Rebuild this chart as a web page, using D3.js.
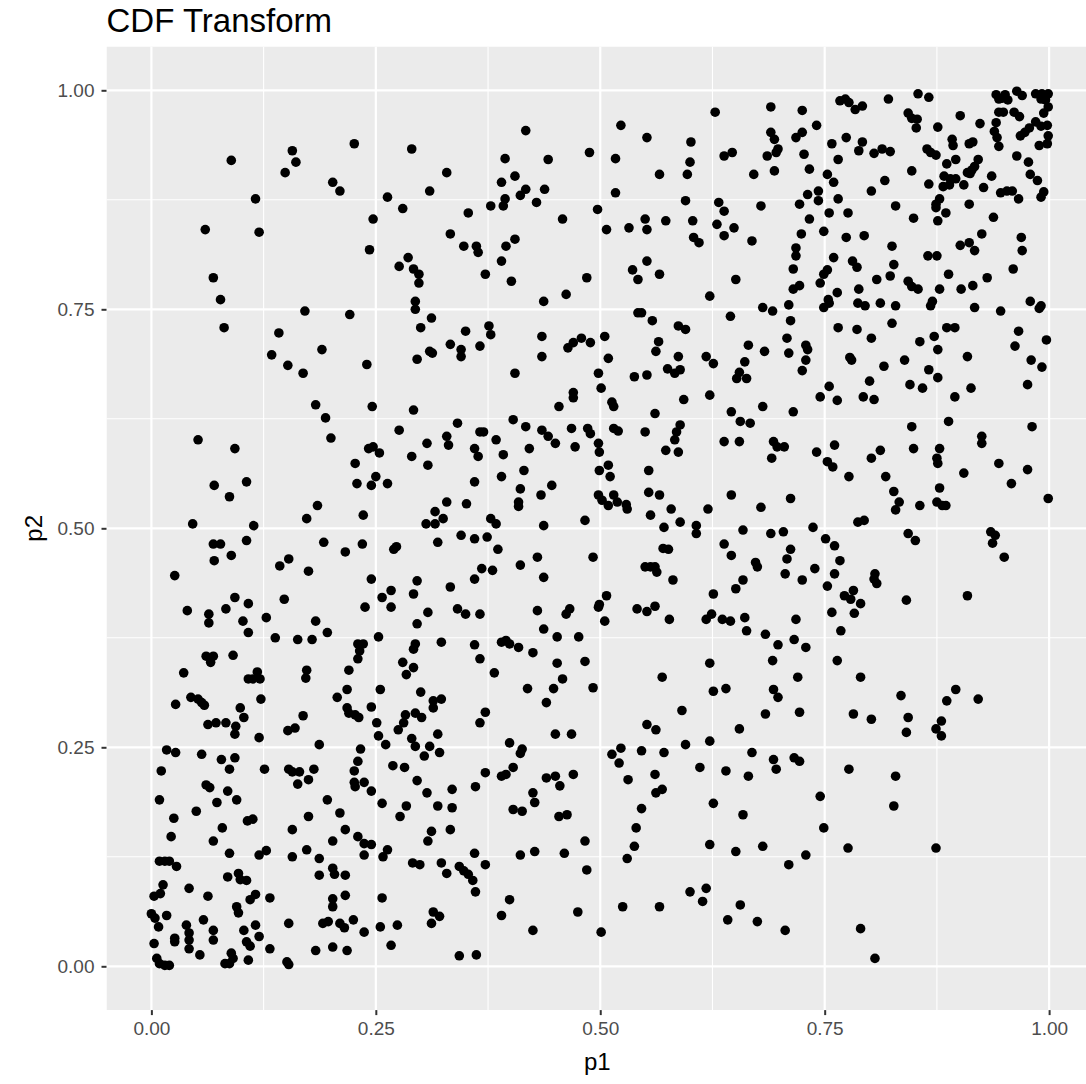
<!DOCTYPE html>
<html>
<head>
<meta charset="utf-8">
<script src="https://cdn.jsdelivr.net/npm/d3@7"></script>
<style>
  html, body { margin: 0; padding: 0; background: #ffffff; overflow: hidden; }
  svg { display: block; }
</style>
</head>
<body>
<svg id="chart" width="1086" height="1084"></svg>
<script>
// Uniform margins (p1, p2) after the CDF transform of each variable.
const samples = [
  [0.089,0.920],[0.157,0.931],[0.161,0.918],[0.149,0.906],[0.202,0.895],[0.210,0.885],[0.116,0.876],[0.060,0.841],[0.120,0.838],[0.069,0.786],[0.077,0.761],[0.081,0.729],[0.171,0.748],[0.221,0.744],[0.142,0.723],[0.190,0.704],[0.134,0.698],[0.152,0.686],
  [0.226,0.939],[0.290,0.933],[0.417,0.954],[0.394,0.922],[0.442,0.921],[0.488,0.929],[0.329,0.906],[0.390,0.895],[0.405,0.902],[0.310,0.885],[0.263,0.878],[0.280,0.865],[0.394,0.876],[0.392,0.868],[0.378,0.868],[0.411,0.880],[0.417,0.887],[0.438,0.887],[0.429,0.872],[0.353,0.860],[0.247,0.853],[0.458,0.853],[0.497,0.864],[0.333,0.836],[0.243,0.818],[0.348,0.822],[0.362,0.822],[0.364,0.815],[0.395,0.822],[0.405,0.830],[0.390,0.805],[0.286,0.809],[0.276,0.799],[0.292,0.796],[0.298,0.790],[0.298,0.780],[0.372,0.790],[0.401,0.782],[0.485,0.786],[0.462,0.767],[0.437,0.759],[0.294,0.759],[0.294,0.750],[0.312,0.740],[0.300,0.729],[0.350,0.725],[0.376,0.731],[0.378,0.721],[0.333,0.710],[0.345,0.704],[0.345,0.696],[0.366,0.708],[0.310,0.702],[0.313,0.700],[0.296,0.693],[0.240,0.687],[0.435,0.719],[0.435,0.696],[0.464,0.706],[0.470,0.712],[0.479,0.717],[0.489,0.712],
  [0.523,0.960],[0.628,0.975],[0.690,0.981],[0.725,0.977],[0.767,0.988],[0.741,0.960],[0.552,0.946],[0.601,0.941],[0.517,0.922],[0.600,0.918],[0.566,0.904],[0.597,0.904],[0.638,0.925],[0.647,0.929],[0.690,0.952],[0.694,0.944],[0.698,0.933],[0.696,0.929],[0.686,0.925],[0.694,0.908],[0.671,0.904],[0.718,0.946],[0.725,0.952],[0.727,0.927],[0.733,0.910],[0.758,0.939],[0.765,0.921],[0.753,0.904],[0.760,0.895],[0.517,0.883],[0.595,0.874],[0.632,0.872],[0.638,0.862],[0.679,0.868],[0.722,0.870],[0.731,0.881],[0.743,0.885],[0.743,0.874],[0.765,0.876],[0.755,0.860],[0.733,0.853],[0.507,0.841],[0.532,0.843],[0.550,0.853],[0.552,0.841],[0.573,0.851],[0.603,0.851],[0.604,0.832],[0.610,0.826],[0.630,0.847],[0.638,0.834],[0.649,0.843],[0.669,0.828],[0.724,0.836],[0.749,0.839],[0.718,0.820],[0.718,0.811],[0.760,0.809],[0.552,0.805],[0.536,0.795],[0.542,0.784],[0.566,0.790],[0.715,0.796],[0.651,0.784],[0.753,0.795],[0.749,0.790],[0.745,0.780],[0.715,0.773],[0.722,0.777],[0.764,0.769],[0.622,0.765],[0.754,0.761],[0.755,0.757],[0.749,0.752],[0.710,0.755],[0.681,0.752],[0.692,0.748],[0.542,0.746],[0.546,0.746],[0.558,0.737],[0.645,0.742],[0.712,0.737],[0.765,0.729],[0.587,0.731],[0.595,0.727],[0.505,0.719],[0.565,0.713],[0.562,0.702],[0.708,0.717],[0.665,0.709],[0.683,0.702],[0.710,0.700],[0.729,0.709],[0.731,0.704],[0.729,0.692],[0.509,0.694],[0.587,0.696],[0.618,0.696],[0.626,0.688],[0.661,0.690],
  [0.773,0.990],[0.777,0.986],[0.784,0.978],[0.792,0.982],[0.821,0.990],[0.854,0.996],[0.866,0.992],[0.941,0.995],[0.944,0.990],[0.951,0.995],[0.954,0.989],[0.948,0.991],[0.964,0.999],[0.970,0.994],[0.985,0.996],[0.992,0.996],[0.999,0.996],[0.991,0.990],[0.996,0.989],[0.999,0.981],[0.994,0.974],[0.944,0.975],[0.949,0.975],[0.961,0.975],[0.967,0.970],[0.843,0.974],[0.847,0.968],[0.853,0.967],[0.852,0.957],[0.901,0.971],[0.876,0.958],[0.923,0.962],[0.941,0.963],[0.985,0.964],[0.991,0.959],[0.998,0.960],[0.978,0.957],[0.973,0.952],[0.968,0.948],[0.999,0.948],[0.998,0.939],[0.989,0.937],[0.939,0.953],[0.942,0.946],[0.944,0.936],[0.774,0.946],[0.792,0.941],[0.788,0.931],[0.805,0.928],[0.814,0.933],[0.823,0.930],[0.864,0.933],[0.868,0.929],[0.874,0.926],[0.892,0.944],[0.893,0.937],[0.911,0.939],[0.915,0.941],[0.886,0.916],[0.896,0.921],[0.921,0.921],[0.964,0.925],[0.977,0.918],[0.847,0.908],[0.817,0.897],[0.802,0.885],[0.866,0.893],[0.883,0.902],[0.890,0.899],[0.896,0.899],[0.882,0.890],[0.889,0.892],[0.905,0.892],[0.909,0.906],[0.914,0.909],[0.917,0.913],[0.912,0.905],[0.936,0.902],[0.927,0.889],[0.979,0.904],[0.987,0.897],[0.946,0.883],[0.953,0.885],[0.959,0.885],[0.966,0.876],[0.994,0.884],[0.991,0.878],[0.878,0.876],[0.874,0.870],[0.874,0.866],[0.885,0.860],[0.876,0.851],[0.911,0.870],[0.829,0.868],[0.776,0.860],[0.849,0.854],[0.938,0.855],[0.774,0.832],[0.794,0.834],[0.825,0.822],[0.925,0.836],[0.901,0.823],[0.911,0.826],[0.917,0.817],[0.969,0.832],[0.970,0.817],[0.865,0.811],[0.875,0.811],[0.781,0.805],[0.786,0.798],[0.827,0.801],[0.960,0.796],[0.888,0.790],[0.808,0.784],[0.823,0.788],[0.843,0.782],[0.847,0.776],[0.854,0.773],[0.931,0.786],[0.788,0.773],[0.878,0.773],[0.902,0.773],[0.915,0.777],[0.787,0.757],[0.795,0.754],[0.812,0.757],[0.829,0.754],[0.868,0.754],[0.870,0.759],[0.917,0.752],[0.946,0.748],[0.979,0.759],[0.991,0.754],[0.989,0.751],[0.786,0.727],[0.825,0.734],[0.886,0.729],[0.895,0.729],[0.802,0.717],[0.856,0.713],[0.872,0.719],[0.876,0.704],[0.966,0.725],[0.962,0.708],[0.997,0.715],[0.778,0.695],[0.780,0.692],[0.839,0.692],[0.909,0.696],[0.980,0.692],
  [0.169,0.677],[0.183,0.641],[0.194,0.626],[0.200,0.603],[0.052,0.601],[0.093,0.591],[0.070,0.549],[0.106,0.553],[0.087,0.536],[0.185,0.526],[0.173,0.511],[0.046,0.505],[0.114,0.503],[0.106,0.486],[0.069,0.482],[0.077,0.482],[0.192,0.484],[0.216,0.473],[0.070,0.463],[0.089,0.469],[0.153,0.465],[0.143,0.457],[0.175,0.451],[0.026,0.446],[0.093,0.421],[0.108,0.414],[0.148,0.419],[0.083,0.408],[0.040,0.406],[0.064,0.402],[0.064,0.392],[0.102,0.394],[0.108,0.381],[0.128,0.398],[0.183,0.394],[0.196,0.381],[0.138,0.375],[0.163,0.373],[0.179,0.373],[0.061,0.354],[0.069,0.354],[0.066,0.347],[0.091,0.355],[0.036,0.335],[0.108,0.328],[0.113,0.328],[0.118,0.336],[0.121,0.328],[0.173,0.338],[0.172,0.329],[0.220,0.338],
  [0.405,0.677],[0.470,0.655],[0.470,0.649],[0.454,0.639],[0.246,0.639],[0.292,0.635],[0.341,0.620],[0.276,0.612],[0.403,0.624],[0.417,0.616],[0.366,0.610],[0.370,0.610],[0.329,0.605],[0.331,0.595],[0.307,0.597],[0.384,0.601],[0.435,0.612],[0.442,0.605],[0.450,0.597],[0.468,0.614],[0.486,0.614],[0.489,0.608],[0.421,0.591],[0.472,0.593],[0.242,0.591],[0.247,0.593],[0.254,0.586],[0.290,0.582],[0.360,0.591],[0.364,0.582],[0.392,0.584],[0.227,0.574],[0.308,0.572],[0.415,0.566],[0.250,0.559],[0.390,0.559],[0.229,0.551],[0.245,0.549],[0.263,0.551],[0.360,0.553],[0.411,0.545],[0.446,0.549],[0.434,0.538],[0.409,0.530],[0.409,0.525],[0.351,0.528],[0.329,0.530],[0.316,0.519],[0.325,0.511],[0.316,0.505],[0.306,0.505],[0.236,0.515],[0.378,0.511],[0.384,0.505],[0.437,0.503],[0.483,0.509],[0.235,0.482],[0.270,0.476],[0.273,0.479],[0.319,0.484],[0.345,0.492],[0.360,0.488],[0.374,0.490],[0.386,0.476],[0.430,0.467],[0.411,0.458],[0.492,0.467],[0.368,0.454],[0.380,0.452],[0.360,0.442],[0.437,0.444],[0.245,0.442],[0.296,0.440],[0.333,0.433],[0.267,0.429],[0.257,0.421],[0.267,0.410],[0.292,0.425],[0.238,0.410],[0.341,0.408],[0.350,0.402],[0.366,0.402],[0.308,0.404],[0.296,0.391],[0.430,0.406],[0.466,0.408],[0.462,0.402],[0.437,0.385],[0.452,0.376],[0.476,0.376],[0.253,0.376],[0.230,0.368],[0.236,0.368],[0.232,0.360],[0.230,0.351],[0.294,0.368],[0.292,0.362],[0.323,0.370],[0.360,0.367],[0.366,0.351],[0.390,0.370],[0.395,0.372],[0.399,0.368],[0.409,0.364],[0.425,0.358],[0.280,0.347],[0.292,0.341],[0.284,0.333],[0.382,0.335],[0.452,0.346],[0.483,0.348],[0.458,0.328],
  [0.498,0.677],[0.538,0.673],[0.552,0.675],[0.575,0.682],[0.583,0.677],[0.589,0.681],[0.655,0.678],[0.652,0.671],[0.663,0.671],[0.725,0.680],[0.501,0.660],[0.513,0.644],[0.515,0.639],[0.593,0.647],[0.622,0.652],[0.561,0.631],[0.646,0.633],[0.681,0.639],[0.715,0.633],[0.745,0.650],[0.755,0.662],[0.764,0.646],[0.515,0.614],[0.520,0.611],[0.550,0.610],[0.589,0.618],[0.585,0.610],[0.583,0.601],[0.573,0.589],[0.587,0.587],[0.656,0.622],[0.667,0.620],[0.638,0.599],[0.655,0.599],[0.693,0.599],[0.697,0.593],[0.705,0.593],[0.691,0.580],[0.741,0.587],[0.761,0.595],[0.753,0.576],[0.759,0.570],[0.498,0.597],[0.499,0.587],[0.509,0.572],[0.499,0.566],[0.511,0.559],[0.554,0.566],[0.498,0.538],[0.502,0.532],[0.509,0.526],[0.515,0.538],[0.519,0.530],[0.529,0.527],[0.530,0.522],[0.554,0.541],[0.566,0.538],[0.556,0.515],[0.579,0.522],[0.589,0.507],[0.571,0.501],[0.607,0.503],[0.607,0.494],[0.620,0.522],[0.646,0.538],[0.679,0.524],[0.712,0.534],[0.659,0.498],[0.690,0.494],[0.704,0.496],[0.737,0.501],[0.751,0.488],[0.761,0.480],[0.767,0.463],[0.570,0.477],[0.576,0.476],[0.638,0.482],[0.646,0.469],[0.712,0.476],[0.708,0.465],[0.673,0.461],[0.675,0.456],[0.550,0.456],[0.556,0.456],[0.561,0.456],[0.563,0.450],[0.581,0.441],[0.659,0.441],[0.651,0.431],[0.706,0.448],[0.725,0.441],[0.739,0.454],[0.761,0.448],[0.753,0.434],[0.507,0.423],[0.499,0.413],[0.498,0.410],[0.505,0.394],[0.626,0.425],[0.541,0.408],[0.552,0.405],[0.561,0.411],[0.577,0.396],[0.618,0.396],[0.624,0.402],[0.636,0.396],[0.645,0.394],[0.661,0.398],[0.663,0.383],[0.718,0.396],[0.758,0.404],[0.768,0.383],[0.684,0.379],[0.698,0.367],[0.716,0.373],[0.729,0.364],[0.692,0.349],[0.764,0.349],[0.622,0.346],[0.569,0.330],[0.720,0.330],
  [0.816,0.685],[0.866,0.681],[0.876,0.672],[0.992,0.684],[0.800,0.668],[0.845,0.664],[0.859,0.660],[0.913,0.660],[0.976,0.664],[0.793,0.650],[0.805,0.647],[0.895,0.650],[0.888,0.622],[0.847,0.616],[0.981,0.616],[0.925,0.605],[0.925,0.597],[0.812,0.589],[0.802,0.580],[0.849,0.591],[0.878,0.591],[0.875,0.580],[0.876,0.574],[0.944,0.574],[0.905,0.563],[0.976,0.567],[0.777,0.559],[0.818,0.559],[0.958,0.551],[0.878,0.546],[0.827,0.542],[0.833,0.530],[0.829,0.521],[0.856,0.526],[0.875,0.530],[0.881,0.526],[0.885,0.526],[0.999,0.534],[0.787,0.507],[0.794,0.509],[0.843,0.494],[0.851,0.486],[0.935,0.496],[0.940,0.492],[0.937,0.483],[0.950,0.467],[0.806,0.448],[0.805,0.442],[0.808,0.437],[0.782,0.429],[0.772,0.423],[0.779,0.419],[0.790,0.414],[0.783,0.403],[0.841,0.418],[0.909,0.423],[0.790,0.330],
  [0.027,0.299],[0.044,0.307],[0.052,0.305],[0.056,0.301],[0.059,0.298],[0.122,0.305],[0.099,0.295],[0.103,0.284],[0.063,0.276],[0.072,0.278],[0.083,0.278],[0.094,0.274],[0.093,0.265],[0.120,0.261],[0.207,0.307],[0.218,0.316],[0.218,0.295],[0.220,0.289],[0.169,0.286],[0.152,0.269],[0.160,0.272],[0.187,0.253],[0.017,0.247],[0.027,0.244],[0.056,0.242],[0.078,0.236],[0.093,0.238],[0.087,0.225],[0.011,0.223],[0.126,0.225],[0.153,0.225],[0.157,0.222],[0.165,0.222],[0.163,0.208],[0.175,0.213],[0.181,0.225],[0.061,0.207],[0.065,0.204],[0.085,0.200],[0.009,0.190],[0.073,0.187],[0.095,0.190],[0.196,0.190],[0.050,0.177],[0.025,0.169],[0.107,0.166],[0.113,0.168],[0.175,0.171],[0.210,0.175],[0.079,0.158],[0.157,0.156],[0.216,0.156],[0.022,0.148],[0.069,0.143],[0.202,0.143],[0.087,0.129],[0.120,0.127],[0.128,0.132],[0.157,0.125],[0.173,0.133],[0.187,0.123],[0.009,0.120],[0.015,0.120],[0.020,0.120],[0.028,0.114],[0.202,0.112],[0.204,0.105],[0.187,0.104],[0.216,0.104],[0.085,0.102],[0.097,0.106],[0.099,0.099],[0.106,0.098],[0.013,0.093],[0.003,0.080],[0.010,0.083],[0.042,0.089],[0.063,0.080],[0.110,0.076],[0.116,0.082],[0.132,0.078],[0.202,0.077],[0.202,0.068],[0.216,0.081],[0.095,0.068],[0.097,0.061],[0.000,0.060],[0.004,0.055],[0.017,0.058],[0.008,0.045],[0.058,0.053],[0.039,0.047],[0.042,0.038],[0.042,0.030],[0.042,0.020],[0.069,0.041],[0.069,0.030],[0.026,0.032],[0.026,0.028],[0.003,0.026],[0.103,0.041],[0.116,0.047],[0.120,0.034],[0.106,0.028],[0.110,0.023],[0.153,0.049],[0.132,0.020],[0.191,0.049],[0.197,0.051],[0.210,0.049],[0.215,0.044],[0.202,0.022],[0.183,0.018],[0.218,0.018],[0.054,0.013],[0.089,0.015],[0.091,0.009],[0.082,0.003],[0.087,0.003],[0.108,0.007],[0.006,0.009],[0.009,0.003],[0.015,0.001],[0.020,0.001],[0.151,0.005],[0.153,0.002],
  [0.255,0.316],[0.300,0.313],[0.419,0.317],[0.448,0.317],[0.492,0.318],[0.314,0.303],[0.323,0.305],[0.314,0.295],[0.245,0.296],[0.227,0.287],[0.231,0.284],[0.251,0.278],[0.283,0.287],[0.294,0.289],[0.301,0.284],[0.281,0.278],[0.275,0.270],[0.253,0.263],[0.261,0.253],[0.319,0.265],[0.290,0.260],[0.294,0.251],[0.310,0.251],[0.321,0.244],[0.304,0.240],[0.372,0.290],[0.366,0.278],[0.440,0.301],[0.450,0.265],[0.468,0.265],[0.399,0.255],[0.413,0.248],[0.411,0.243],[0.233,0.248],[0.230,0.234],[0.226,0.223],[0.226,0.210],[0.227,0.205],[0.237,0.210],[0.245,0.200],[0.269,0.229],[0.282,0.227],[0.296,0.212],[0.307,0.198],[0.335,0.202],[0.361,0.205],[0.372,0.221],[0.403,0.227],[0.390,0.217],[0.395,0.219],[0.440,0.215],[0.450,0.217],[0.455,0.206],[0.470,0.219],[0.425,0.198],[0.427,0.187],[0.403,0.179],[0.413,0.177],[0.454,0.171],[0.463,0.173],[0.257,0.186],[0.284,0.183],[0.277,0.171],[0.319,0.183],[0.335,0.181],[0.333,0.156],[0.312,0.154],[0.308,0.143],[0.230,0.148],[0.237,0.140],[0.245,0.139],[0.237,0.127],[0.263,0.133],[0.258,0.125],[0.291,0.118],[0.299,0.116],[0.323,0.118],[0.329,0.106],[0.343,0.114],[0.348,0.109],[0.353,0.105],[0.358,0.098],[0.361,0.085],[0.360,0.129],[0.372,0.116],[0.411,0.127],[0.427,0.131],[0.460,0.129],[0.483,0.143],[0.485,0.110],[0.399,0.076],[0.390,0.058],[0.475,0.062],[0.425,0.041],[0.257,0.078],[0.314,0.062],[0.321,0.057],[0.312,0.049],[0.225,0.053],[0.255,0.045],[0.274,0.047],[0.237,0.039],[0.267,0.024],[0.343,0.012],[0.362,0.013],
  [0.626,0.314],[0.640,0.317],[0.693,0.316],[0.698,0.307],[0.591,0.292],[0.684,0.288],[0.722,0.290],[0.552,0.276],[0.562,0.270],[0.655,0.271],[0.595,0.253],[0.622,0.257],[0.523,0.249],[0.513,0.242],[0.521,0.232],[0.546,0.246],[0.571,0.244],[0.669,0.244],[0.693,0.236],[0.696,0.225],[0.716,0.238],[0.722,0.234],[0.611,0.227],[0.640,0.223],[0.665,0.217],[0.531,0.213],[0.561,0.219],[0.562,0.198],[0.569,0.202],[0.745,0.194],[0.626,0.186],[0.546,0.180],[0.659,0.173],[0.540,0.158],[0.749,0.158],[0.538,0.137],[0.622,0.139],[0.651,0.131],[0.681,0.137],[0.530,0.123],[0.729,0.127],[0.710,0.116],[0.600,0.085],[0.618,0.089],[0.614,0.074],[0.525,0.068],[0.566,0.068],[0.656,0.070],[0.642,0.053],[0.675,0.051],[0.706,0.041],[0.501,0.039],
  [0.896,0.316],[0.835,0.309],[0.921,0.305],[0.886,0.303],[0.782,0.288],[0.802,0.282],[0.843,0.284],[0.841,0.267],[0.880,0.280],[0.874,0.271],[0.880,0.263],[0.777,0.225],[0.829,0.217],[0.827,0.183],[0.776,0.135],[0.874,0.135],[0.790,0.043],[0.806,0.009]
];

const majorTicks = [0, 0.25, 0.5, 0.75, 1];
const minorTicks = [0.125, 0.375, 0.625, 0.875];
const tickLabels = ["0.00", "0.25", "0.50", "0.75", "1.00"];
const titleText = "CDF Transform";
const xTitle = "p1";
const yTitle = "p2";

const panel = { left: 106.5, top: 46.5, width: 987.5, height: 963.6 };
const FONT = "'Liberation Sans', Arial, Helvetica, sans-serif";

const svg = d3.select("#chart");

// 5% expansion on both ends of the unit interval
const x = d3.scaleLinear().domain([-0.05, 1.05]).range([panel.left, panel.left + panel.width]);
const y = d3.scaleLinear().domain([-0.05, 1.05]).range([panel.top + panel.height, panel.top]);

svg.append("defs").append("clipPath").attr("id", "panel-clip")
  .append("rect")
  .attr("x", panel.left).attr("y", panel.top)
  .attr("width", panel.width).attr("height", panel.height);

const plot = svg.append("g").attr("clip-path", "url(#panel-clip)");

plot.append("rect")
  .attr("x", panel.left).attr("y", panel.top)
  .attr("width", panel.width).attr("height", panel.height)
  .attr("fill", "#EBEBEB");

// minor grid
plot.append("g").selectAll("line").data(minorTicks).join("line")
  .attr("x1", d => x(d)).attr("x2", d => x(d))
  .attr("y1", panel.top).attr("y2", panel.top + panel.height)
  .attr("stroke", "#ffffff").attr("stroke-width", 1.1);
plot.append("g").selectAll("line").data(minorTicks).join("line")
  .attr("y1", d => y(d)).attr("y2", d => y(d))
  .attr("x1", panel.left).attr("x2", panel.left + panel.width)
  .attr("stroke", "#ffffff").attr("stroke-width", 1.1);

// major grid
plot.append("g").selectAll("line").data(majorTicks).join("line")
  .attr("x1", d => x(d)).attr("x2", d => x(d))
  .attr("y1", panel.top).attr("y2", panel.top + panel.height)
  .attr("stroke", "#ffffff").attr("stroke-width", 2.2);
plot.append("g").selectAll("line").data(majorTicks).join("line")
  .attr("y1", d => y(d)).attr("y2", d => y(d))
  .attr("x1", panel.left).attr("x2", panel.left + panel.width)
  .attr("stroke", "#ffffff").attr("stroke-width", 2.2);

// points
plot.append("g").selectAll("circle").data(samples).join("circle")
  .attr("cx", d => x(d[0]))
  .attr("cy", d => y(d[1]))
  .attr("r", 4.8)
  .attr("fill", "#000000");

// axes
const xAxis = d3.axisBottom(x).tickValues(majorTicks).tickFormat((d, i) => tickLabels[i]).tickSize(5).tickPadding(6);
const yAxis = d3.axisLeft(y).tickValues(majorTicks).tickFormat((d, i) => tickLabels[i]).tickSize(5).tickPadding(7);

const gx = svg.append("g").attr("transform", `translate(0,${panel.top + panel.height})`).call(xAxis);
const gy = svg.append("g").attr("transform", `translate(${panel.left},0)`).call(yAxis);

[gx, gy].forEach(g => {
  g.select(".domain").remove();
  g.selectAll(".tick line").attr("stroke", "#333333").attr("stroke-width", 2);
  g.selectAll(".tick text")
    .attr("fill", "#4D4D4D")
    .style("font-family", FONT)
    .style("font-size", "19px");
});

// axis titles
svg.append("text")
  .attr("x", panel.left + panel.width / 2 - 3)
  .attr("y", 1070)
  .attr("text-anchor", "middle")
  .style("font-family", FONT).style("font-size", "24px")
  .attr("fill", "#000000")
  .text(xTitle);

svg.append("text")
  .attr("transform", `translate(42,${panel.top + panel.height / 2}) rotate(-90)`)
  .attr("text-anchor", "middle")
  .style("font-family", FONT).style("font-size", "24px")
  .attr("fill", "#000000")
  .text(yTitle);

// title
svg.append("text")
  .attr("x", panel.left)
  .attr("y", 32)
  .style("font-family", FONT).style("font-size", "33px")
  .attr("fill", "#000000")
  .text(titleText);
</script>
</body>
</html>
